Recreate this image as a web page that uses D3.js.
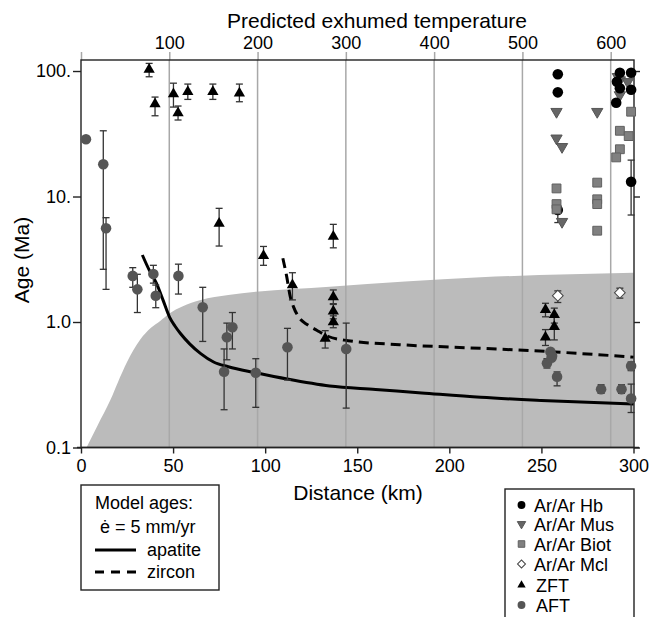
<!DOCTYPE html>
<html>
<head>
<meta charset="utf-8">
<script src="https://cdn.jsdelivr.net/npm/d3@7"></script>
<style>
  body { margin: 0; background: #fff; }
  svg { font-family: "Liberation Sans", Arial, Helvetica, sans-serif; }
</style>
</head>
<body>
<script>
// axis ticks
var distanceTicks = [0, 50, 100, 150, 200, 250, 300];
var temperatureTicks = [0, 100, 200, 300, 400, 500, 600];
var ageTicks = [0.1, 1, 10, 100];
var ageTickLabels = ['0.1', '1.0', '10.', '100.'];

// model curves [distance km, age Ma]
var envelope = [[3, 0.1], [9, 0.15], [16, 0.24], [20, 0.33], [25, 0.48], [32, 0.72], [38, 0.9],
    [43, 1.02], [48, 1.17], [55, 1.33], [65, 1.5], [80, 1.64], [95, 1.74], [135, 1.91],
    [217, 2.27], [300, 2.47]];
var apatiteModel = [[33.3, 3.42], [37, 2.6], [41, 2.03], [44.5, 1.5], [48, 1.1], [51, 0.93],
    [54, 0.81], [59, 0.67], [65, 0.56], [72, 0.48], [80, 0.44], [95, 0.394], [112, 0.351],
    [135, 0.309], [160, 0.29], [185, 0.272], [217, 0.251], [250, 0.237], [300, 0.222]];
var zirconModel = [[109.6, 3.22], [111.7, 2.3], [113.6, 1.6], [115.4, 1.32], [118.5, 1.08],
    [123, 0.95], [128, 0.86], [134, 0.77], [145, 0.71], [173, 0.66], [217, 0.617],
    [255, 0.58], [300, 0.525]];

// measured ages [distance, age, low, high]
var hbAges = [[258.9, 94.2], [258.9, 67.6], [258.9, 7.8, 6.2, 8.4], [292.6, 97], [298.7, 97],
    [291, 82.2], [292.6, 72.8], [298.7, 71], [290.6, 55.9], [298.7, 13.1, 7.12, 19.5]];
var musAges = [[258.2, 47.4], [280.3, 47.4], [258.2, 29.1], [261.2, 24.9], [261.2, 6.3],
    [292.6, 84.7], [296.9, 82], [292.6, 64.4], [291.5, 90]];
var biotAges = [[258.2, 11.6], [258.2, 8.7], [258.2, 7.9], [280.3, 12.9], [280.3, 9.5],
    [280.3, 8.7], [280.3, 5.34], [298.7, 47.4], [292.6, 33.4], [297.4, 30.3], [292.6, 23.8],
    [290.6, 20.5]];
var mclAges = [[258.9, 1.62, 1.43, 1.77], [292.6, 1.71, 1.55, 1.86]];
var zftAges = [[37, 103, 90, 115], [40.2, 54.6, 44, 62], [50.2, 65.6, 51.6, 80],
    [52.7, 46.2, 40.7, 52.6], [58, 68.4, 59.4, 78.7], [71.6, 68.4, 59.4, 78.7],
    [86, 66.4, 56.9, 78.7], [75, 6.1, 4.03, 8.05], [99.1, 3.37, 2.83, 4.0],
    [114.8, 1.97, 1.5, 2.47], [132.6, 0.74, 0.62, 0.853], [137, 4.8, 3.9, 6.0],
    [137, 1.58, 1.38, 1.8], [137, 1.22, 1.06, 1.4], [137, 1.0, 0.9, 1.12],
    [252.2, 1.25, 1.1, 1.41], [257, 1.14, 0.98, 1.29], [257, 0.917, 0.72, 1.14],
    [252.2, 0.755, 0.65, 0.87]];
var aftAges = [[2.7, 28.6], [12.1, 18.1, 2.63, 33.4], [13.6, 5.58, 1.82, 6.78],
    [28.1, 2.33, 1.89, 2.71], [30.6, 1.82, 1.19, 2.4], [39.3, 2.41, 2.04, 2.83],
    [40.6, 1.62, 1.3, 1.97], [52.9, 2.33, 1.67, 2.89], [66.1, 1.31, 0.7, 1.89],
    [79.2, 0.755, 0.5, 0.98], [82.2, 0.908, 0.61, 1.19], [77.7, 0.402, 0.2, 0.61],
    [94.9, 0.394, 0.209, 0.51], [112.1, 0.629, 0.345, 0.89], [144, 0.61, 0.206, 0.98],
    [254.9, 0.58], [255.8, 0.536], [253, 0.469, 0.43, 0.51], [255.5, 0.52],
    [258.5, 0.366, 0.31, 0.4], [282.4, 0.291, 0.27, 0.316], [293.5, 0.291, 0.27, 0.316],
    [298.7, 0.446, 0.41, 0.48], [298.7, 0.246, 0.19, 0.32]];

var legendItems = ['Ar/Ar Hb', 'Ar/Ar Mus', 'Ar/Ar Biot', 'Ar/Ar Mcl', 'ZFT', 'AFT'];

var W = 652, H = 617;
var plotL = 81, plotR = 634, plotT = 60, plotB = 447.5;

var svg = d3.select('body').append('svg').attr('width', W).attr('height', H);

var x = d3.scaleLinear().domain([0, 300]).range([plotL, 633.5]);
var xTemp = d3.scaleLinear().domain([0, 600]).range([plotL, 610.7]);
var y = d3.scaleLog().domain([0.1, 122.4]).range([plotB, plotT]);

// shaded envelope
var area = d3.area()
    .x(function(d) { return x(d[0]); })
    .y0(y(0.1))
    .y1(function(d) { return y(d[1]); })
    .curve(d3.curveMonotoneX);
svg.append('path').datum(envelope).attr('d', area).attr('fill', '#bbbbbb');

// temperature grid + top axis
var topAxis = svg.append('g')
    .attr('transform', 'translate(0,' + plotT + ')')
    .call(d3.axisTop(xTemp).tickValues(temperatureTicks)
        .tickSize(8).tickPadding(3)
        .tickFormat(function(t) { return t === 0 ? '' : t; }));
topAxis.select('.domain').remove();
topAxis.selectAll('.tick line').attr('stroke', '#a8a8a8').attr('stroke-width', 1.5);
topAxis.selectAll('.tick text').attr('font-size', 18).attr('fill', '#000');
topAxis.attr('font-family', null);

svg.append('g').selectAll('line')
    .data(temperatureTicks.slice(1))
    .join('line')
    .attr('x1', function(t) { return xTemp(t); })
    .attr('x2', function(t) { return xTemp(t); })
    .attr('y1', plotT).attr('y2', plotB)
    .attr('stroke', '#a8a8a8').attr('stroke-width', 1.5);

// frame
svg.append('rect')
    .attr('x', plotL).attr('y', plotT)
    .attr('width', plotR - plotL).attr('height', plotB - plotT)
    .attr('fill', 'none').attr('stroke', '#222').attr('stroke-width', 1.4);
svg.append('line')
    .attr('x1', 77).attr('x2', 639).attr('y1', plotB).attr('y2', plotB)
    .attr('stroke', '#222').attr('stroke-width', 1.4);

// bottom axis
var bottomAxis = svg.append('g')
    .attr('transform', 'translate(0,' + plotB + ')')
    .call(d3.axisBottom(x).tickValues(distanceTicks).tickSize(6).tickPadding(6));
bottomAxis.select('.domain').remove();
bottomAxis.selectAll('.tick line').attr('stroke', '#222').attr('stroke-width', 1.4);
bottomAxis.selectAll('.tick text').attr('font-size', 18).attr('fill', '#000');
bottomAxis.attr('font-family', null);

// left axis
var leftAxis = svg.append('g')
    .attr('transform', 'translate(' + plotL + ',0)')
    .call(d3.axisLeft(y).tickValues(ageTicks).tickSize(8).tickPadding(2)
        .tickFormat(function(v, i) { return ageTickLabels[i]; }));
leftAxis.select('.domain').remove();
leftAxis.selectAll('.tick line').attr('stroke', '#222').attr('stroke-width', 1.4);
leftAxis.selectAll('.tick text').attr('font-size', 18).attr('fill', '#000');
leftAxis.attr('font-family', null);

// right ticks
var rightAxis = svg.append('g')
    .attr('transform', 'translate(' + plotR + ',0)')
    .call(d3.axisRight(y).tickValues(ageTicks).tickSize(6).tickFormat(''));
rightAxis.select('.domain').remove();
rightAxis.selectAll('.tick line').attr('stroke', '#222').attr('stroke-width', 1.4);

// axis titles
svg.append('text').attr('x', 377).attr('y', 28).attr('text-anchor', 'middle')
    .attr('font-size', 21).text('Predicted exhumed temperature');
svg.append('text').attr('x', 358).attr('y', 500).attr('text-anchor', 'middle')
    .attr('font-size', 21).text('Distance (km)');
svg.append('text').attr('transform', 'translate(29,260) rotate(-90)')
    .attr('text-anchor', 'middle').attr('font-size', 21).text('Age (Ma)');

// model curves
var line = d3.line()
    .x(function(d) { return x(d[0]); })
    .y(function(d) { return y(d[1]); })
    .curve(d3.curveMonotoneX);
svg.append('path').datum(apatiteModel).attr('d', line)
    .attr('fill', 'none').attr('stroke', '#000').attr('stroke-width', 3);
svg.append('path').datum(zirconModel).attr('d', line)
    .attr('fill', 'none').attr('stroke', '#000').attr('stroke-width', 3)
    .attr('stroke-dasharray', '10,6');

/**
 * Error bars with caps for every row that carries a low/high pair.
 */
function drawErrorBars(rows) {
    var g = svg.append('g').attr('stroke', '#333').attr('stroke-width', 1.3);
    rows.filter(function(r) { return r[2] != null; }).forEach(function(r) {
        var cx = x(r[0]);
        g.append('line').attr('x1', cx).attr('x2', cx).attr('y1', y(r[2])).attr('y2', y(r[3]));
        [r[2], r[3]].forEach(function(v) {
            g.append('line').attr('x1', cx - 3.5).attr('x2', cx + 3.5)
                .attr('y1', y(v)).attr('y2', y(v));
        });
    });
}

var styles = {
    hb:   { type: d3.symbolCircle, size: 88, fill: '#000', stroke: 'none', rot: 0 },
    mus:  { type: d3.symbolTriangle, size: 55, fill: '#666', stroke: '#555', rot: 180 },
    biot: { type: d3.symbolSquare, size: 78, fill: '#808080', stroke: '#606060', rot: 0 },
    mcl:  { type: d3.symbolSquare, size: 58, fill: '#fff', stroke: '#444', rot: 45 },
    zft:  { type: d3.symbolTriangle, size: 55, fill: '#000', stroke: 'none', rot: 0 },
    aft:  { type: d3.symbolCircle, size: 88, fill: '#555', stroke: 'none', rot: 0 }
};

/**
 * Draw one sample group as symbols.
 */
function drawPoints(rows, st) {
    svg.append('g').selectAll('path')
        .data(rows)
        .join('path')
        .attr('d', d3.symbol().type(st.type).size(st.size))
        .attr('transform', function(r) {
            return 'translate(' + x(r[0]) + ',' + y(r[1]) + ') rotate(' + st.rot + ')';
        })
        .attr('fill', st.fill)
        .attr('stroke', st.stroke)
        .attr('stroke-width', 1);
}

drawErrorBars(hbAges);
drawErrorBars(mclAges);
drawErrorBars(zftAges);
drawErrorBars(aftAges);
drawPoints(musAges, styles.mus);
drawPoints(hbAges, styles.hb);
drawPoints(biotAges, styles.biot);
drawPoints(mclAges, styles.mcl);
drawPoints(zftAges, styles.zft);
drawPoints(aftAges, styles.aft);

// model legend
var lg = svg.append('g');
lg.append('rect').attr('x', 81).attr('y', 485).attr('width', 138).attr('height', 105)
    .attr('fill', '#fff').attr('stroke', '#222').attr('stroke-width', 1.4);
lg.append('text').attr('x', 95).attr('y', 509).attr('font-size', 18).text('Model ages:');
lg.append('text').attr('x', 100).attr('y', 533).attr('font-size', 18).text('\u0117 = 5 mm/yr');
lg.append('line').attr('x1', 95).attr('x2', 136).attr('y1', 550).attr('y2', 550)
    .attr('stroke', '#000').attr('stroke-width', 3);
lg.append('text').attr('x', 147).attr('y', 556).attr('font-size', 18).text('apatite');
lg.append('line').attr('x1', 95).attr('x2', 136).attr('y1', 572).attr('y2', 572)
    .attr('stroke', '#000').attr('stroke-width', 3).attr('stroke-dasharray', '9,7');
lg.append('text').attr('x', 147).attr('y', 578).attr('font-size', 18).text('zircon');

// symbol legend
var sg = svg.append('g');
sg.append('rect').attr('x', 505).attr('y', 489).attr('width', 129).attr('height', 140)
    .attr('fill', '#fff').attr('stroke', '#222').attr('stroke-width', 1.4);
var legendRows = [505, 524, 544, 564, 585, 605];
var legendStyles = [styles.hb, styles.mus, styles.biot, styles.mcl, styles.zft, styles.aft];
legendItems.forEach(function(name, i) {
    var st = legendStyles[i];
    sg.append('path')
        .attr('d', d3.symbol().type(st.type).size(st.size * 0.55)())
        .attr('transform', 'translate(521.5,' + legendRows[i] + ') rotate(' + st.rot + ')')
        .attr('fill', st.fill).attr('stroke', st.stroke).attr('stroke-width', 1);
    sg.append('text').attr('x', i >= 4 ? 536 : 534).attr('y', legendRows[i] + 6.5)
        .attr('font-size', 18).text(name);
});
</script>
</body>
</html>
